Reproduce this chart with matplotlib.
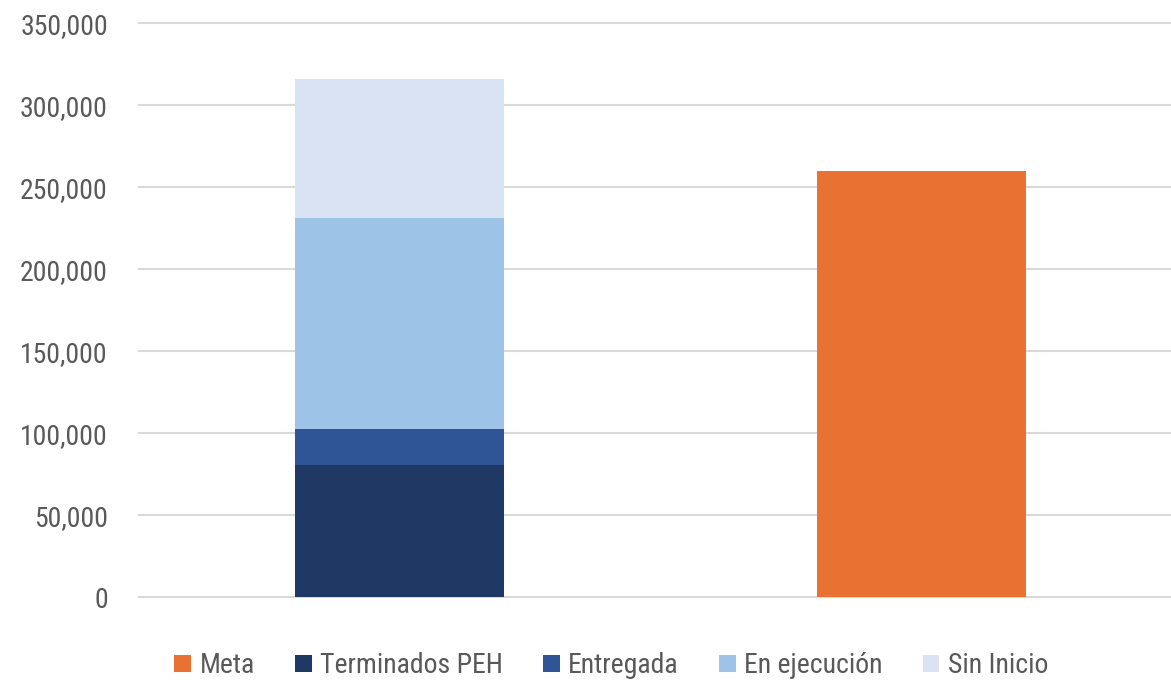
import matplotlib.pyplot as plt
from matplotlib.patches import Patch
from matplotlib.ticker import FuncFormatter
from matplotlib import font_manager

# condensed font if one is available
names = {f.name for f in font_manager.fontManager.ttflist}
narrow = [n for n in ['Arial Narrow', 'Liberation Sans Narrow', 'Roboto Condensed',
                      'DejaVu Sans Condensed'] if n in names]
plt.rcParams['font.family'] = narrow[:1] + ['DejaVu Sans']

categories = ['Avance', 'Meta']
terminados = [80500, 0]
entregada = [22000, 0]
en_ejecucion = [128600, 0]
sin_inicio = [84800, 0]
meta = [0, 260000]

labels = ['Meta', 'Terminados PEH', 'Entregada', 'En ejecución', 'Sin Inicio']
colors = ['#E97132', '#203864', '#2F5597', '#9DC3E6', '#DAE3F3']
text_color = '#595959'

fig = plt.figure(figsize=(11.71, 6.8), dpi=100)
ax = fig.add_axes([0.1183, 0.122, 0.8915, 0.844])

x = [0, 1]
w = 0.4
ax.bar(x[0], terminados[0], w, color=colors[1], zorder=3)
ax.bar(x[0], entregada[0], w, bottom=terminados[0], color=colors[2], zorder=3)
b2 = terminados[0] + entregada[0]
ax.bar(x[0], en_ejecucion[0], w, bottom=b2, color=colors[3], zorder=3)
b3 = b2 + en_ejecucion[0]
ax.bar(x[0], sin_inicio[0], w, bottom=b3, color=colors[4], zorder=3)
ax.bar(x[1], meta[1], w, color=colors[0], zorder=3)

ax.set_xlim(-0.5, 1.5)
ax.set_ylim(0, 350000)
ax.set_yticks(range(0, 350001, 50000))
ax.yaxis.set_major_formatter(FuncFormatter(lambda v, p: f'{int(v):,}'))
ax.set_xticks([])
ax.tick_params(axis='y', length=0, pad=22, labelsize=20, labelcolor=text_color)
ax.grid(axis='y', color='#D9D9D9', linewidth=1.5, zorder=0)
for l in ax.get_ygridlines():
    l.set_clip_on(False)
for s in ax.spines.values():
    s.set_visible(False)

handles = [Patch(facecolor=c, edgecolor='none') for c in colors]
fig.legend(handles, labels, loc='center', bbox_to_anchor=(0.522, 0.021), ncol=5,
           frameon=False, fontsize=20, labelcolor=text_color,
           handlelength=0.6, handleheight=0.6, handletextpad=0.3,
           columnspacing=1.45)

fig.savefig('out.png', dpi=100)
